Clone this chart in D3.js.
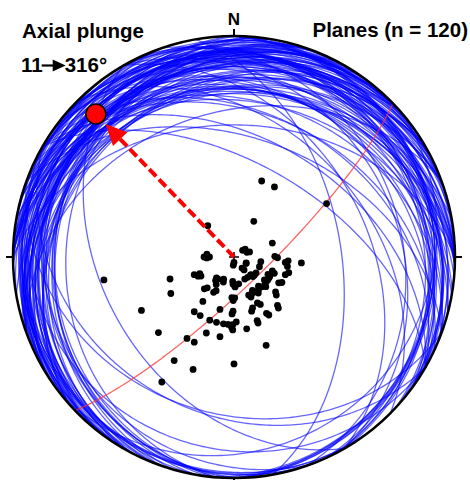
<!DOCTYPE html>
<html>
<head>
<meta charset="utf-8">
<script src="https://cdn.jsdelivr.net/npm/d3@7"></script>
<style>
  body { margin: 0; background: #fff; }
  svg { display: block; font-family: "Liberation Sans", Arial, sans-serif; }
</style>
</head>
<body>
<div id="chart"></div>
<script>
const dipDirections = [
  200, 210, 240, 209, 140, 250, 235, 250, 92, 269,
  0, 298, 280, 274, 275, 324, 291, 280, 62, 316,
  290, 289, 36, 23, 33, 2, 350, 334, 326, 316,
  306, 299, 305, 310, 317, 323, 329, 334, 339, 298,
  41, 30, 359, 1, 310, 35, 331, 340, 15, 1,
  319, 36, 30, 329, 21, 15, 9, 5, 1, 340,
  1, 350, 20, 10, 80, 71, 60, 60, 45, 30,
  25, 340, 30, 20, 0, 30,
  296, 322, 318, 88, 96, 90, 60, 312, 66, 40,
  3, 358, 302, 307, 313, 320, 326, 331, 337, 297,
  292, 300, 312, 333, 342, 2, 3, 318, 330, 276,
  286, 38, 25, 90, 64, 43, 28, 271, 2, 358,
  252, 232, 5, 340
];
const dips = [
  30, 30, 40, 15, 15, 15, 5, 5, 10, 15,
  2, 5, 10, 20, 25, 5, 10, 20, 15, 9,
  15, 20, 10, 10, 12, 10, 10, 9, 9, 10,
  10, 15, 15, 15, 15, 15, 15, 15, 15, 20,
  15, 15, 15, 16, 20, 20, 20, 20, 20, 20,
  25, 25, 25, 25, 25, 25, 25, 25, 25, 25,
  27, 27, 30, 30, 50, 25, 27, 40, 40, 35,
  35, 35, 45, 45, 40, 55,
  5, 6, 9, 10, 10, 9, 14, 10, 16, 10,
  9, 11, 15, 14, 16, 14, 16, 14, 16, 14,
  16, 19, 21, 19, 21, 21, 15, 24, 24, 19,
  21, 11, 9, 11, 14, 16, 14, 16, 26, 24,
  6, 4, 3, 26
];

// fold axis (best-fit girdle pole)
const axisTrend = 316;
const axisPlunge = 11;

const cardinals = [0, 90, 180, 270];

const width = 470, height = 480;
const cx = 234, cy = 257, R = 221;

const sx = d3.scaleLinear().domain([-1, 1]).range([cx - R, cx + R]);
const sy = d3.scaleLinear().domain([-1, 1]).range([cy + R, cy - R]);

const rad = d => d * Math.PI / 180;

function toVec(trend, plunge) {
  const t = rad(trend), p = rad(plunge);
  return [Math.cos(p) * Math.sin(t), Math.cos(p) * Math.cos(t), -Math.sin(p)];
}

// lower hemisphere equal-area (Schmidt)
function project(v) {
  let [x, y, z] = v;
  if (z > 0) { x = -x; y = -y; z = -z; }
  const k = 1 / Math.sqrt(1 - z);
  return [sx(x * k), sy(y * k)];
}

function greatCircle(dd, dip) {
  const s = toVec(dd - 90, 0);
  const d = toVec(dd, dip);
  return d3.range(0, 180.5, 1).map(a => {
    const r = rad(a);
    return project([0, 1, 2].map(i => Math.cos(r) * s[i] + Math.sin(r) * d[i]));
  });
}

const planes = dipDirections.map((dd, i) => ({dd: dd, dip: dips[i]}));

const svg = d3.select("#chart").append("svg")
  .attr("width", width)
  .attr("height", height);

const line = d3.line();

// great circles
svg.append("g")
  .selectAll("path")
  .data(planes)
  .enter()
  .append("path")
  .attr("d", d => line(greatCircle(d.dd, d.dip)))
  .attr("fill", "none")
  .attr("stroke", "#0000ff")
  .attr("stroke-opacity", 0.6)
  .attr("stroke-width", 1.3);

// girdle plane perpendicular to the axis
svg.append("path")
  .attr("d", line(greatCircle(axisTrend - 180, 90 - axisPlunge)))
  .attr("fill", "none")
  .attr("stroke", "#ff3030")
  .attr("stroke-opacity", 0.75)
  .attr("stroke-width", 1.3);

// primitive
svg.append("circle")
  .attr("cx", cx).attr("cy", cy).attr("r", R)
  .attr("fill", "none")
  .attr("stroke", "#000")
  .attr("stroke-width", 2.5);

svg.append("g")
  .selectAll("line")
  .data(cardinals)
  .enter()
  .append("line")
  .attr("x1", d => cx + R * Math.sin(rad(d)))
  .attr("y1", d => cy - R * Math.cos(rad(d)))
  .attr("x2", d => cx + (R + 7) * Math.sin(rad(d)))
  .attr("y2", d => cy - (R + 7) * Math.cos(rad(d)))
  .attr("stroke", "#000")
  .attr("stroke-width", 2);

svg.append("text")
  .attr("x", cx).attr("y", cy - R - 11)
  .attr("text-anchor", "middle")
  .attr("font-size", 17)
  .attr("font-weight", "bold")
  .text("N");

// poles
svg.append("g")
  .selectAll("circle")
  .data(planes)
  .enter()
  .append("circle")
  .attr("cx", d => project(toVec(d.dd + 180, 90 - d.dip))[0])
  .attr("cy", d => project(toVec(d.dd + 180, 90 - d.dip))[1])
  .attr("r", 3.4)
  .attr("fill", "#000");

// centre cross
svg.append("path")
  .attr("d", `M${cx - 5},${cy}H${cx + 5}M${cx},${cy - 5}V${cy + 5}`)
  .attr("stroke", "#000")
  .attr("stroke-width", 1.5);

// arrow to the axis
const axisPt = project(toVec(axisTrend, axisPlunge));
const ux = (axisPt[0] - cx), uy = (axisPt[1] - cy);
const len = Math.hypot(ux, uy);
const u = [ux / len, uy / len];
const n = [-u[1], u[0]];
const tip = [cx + u[0] * (len - 14), cy + u[1] * (len - 14)];
const base = [tip[0] - u[0] * 21, tip[1] - u[1] * 21];

svg.append("line")
  .attr("x1", cx).attr("y1", cy)
  .attr("x2", base[0] + u[0] * 2).attr("y2", base[1] + u[1] * 2)
  .attr("stroke", "#ff0000")
  .attr("stroke-width", 4)
  .attr("stroke-dasharray", "10,4");

svg.append("path")
  .attr("d", `M${tip[0]},${tip[1]}L${base[0] + n[0] * 10},${base[1] + n[1] * 10}L${base[0] - n[0] * 10},${base[1] - n[1] * 10}Z`)
  .attr("fill", "#ff0000");

svg.append("circle")
  .attr("cx", axisPt[0]).attr("cy", axisPt[1])
  .attr("r", 10)
  .attr("fill", "#ff0000")
  .attr("stroke", "#000")
  .attr("stroke-width", 1.5);

// labels
const fs = 20.5;
svg.append("text")
  .attr("x", 22).attr("y", 38)
  .attr("font-size", fs)
  .attr("font-weight", "bold")
  .text("Axial plunge");

const t1 = svg.append("text")
  .attr("x", 21).attr("y", 72)
  .attr("font-size", fs)
  .attr("font-weight", "bold")
  .text(String(axisPlunge));

const ax0 = 21 + t1.node().getComputedTextLength() - 1;
svg.append("line")
  .attr("x1", ax0).attr("y1", 65.5)
  .attr("x2", ax0 + 13).attr("y2", 65.5)
  .attr("stroke", "#000")
  .attr("stroke-width", 2.2);
svg.append("path")
  .attr("d", `M${ax0 + 11},${59.5}L${ax0 + 24},${65.5}L${ax0 + 11},${71.5}Z`)
  .attr("fill", "#000");

svg.append("text")
  .attr("x", ax0 + 23).attr("y", 72)
  .attr("font-size", fs)
  .attr("font-weight", "bold")
  .text(axisTrend + "°");

svg.append("text")
  .attr("x", 468).attr("y", 37)
  .attr("text-anchor", "end")
  .attr("font-size", fs)
  .attr("font-weight", "bold")
  .text(`Planes (n = ${planes.length})`);
</script>
</body>
</html>
